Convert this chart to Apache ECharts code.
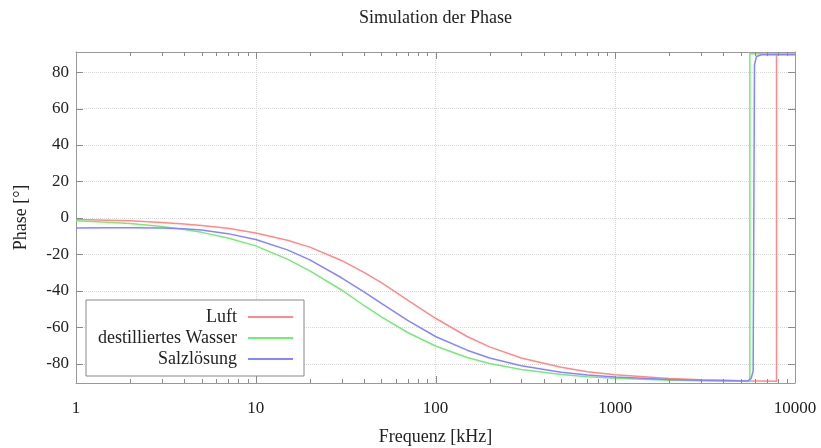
<!DOCTYPE html>
<html><head><meta charset="utf-8">
<script src="https://cdn.jsdelivr.net/npm/echarts@6/dist/echarts.min.js"></script>
<style>html,body{margin:0;padding:0;background:#fff}#c{width:821px;height:448px}</style>
</head><body><div id="c"></div>
<script>
const titleText = 'Simulation der Phase';
const xAxisName = 'Frequenz [kHz]';
const yAxisName = 'Phase [°]';
const seriesNames = ['Luft', 'destilliertes Wasser', 'Salzlösung'];
const seriesColors = ['#ff8a8a', '#78ea78', '#8585ff'];
const xTickLabels = ['1', '10', '100', '1000', '10000'];
const xMajorTicks = [10, 100, 1000];
const yTickValues = [-80, -60, -40, -20, 0, 20, 40, 60, 80];
const minorTickFreqs = [2,3,4,5,6,7,8,9, 20,30,40,50,60,70,80,90, 200,300,400,500,600,700,800,900, 2000,3000,4000,5000,6000,7000,8000,9000];

const freqLuft  = [1, 1.5, 2, 3, 4, 5, 7, 10, 15, 20, 30, 40, 50, 70, 100, 150, 200, 300, 500, 700, 1000, 2000, 3000, 5000, 7890, 7890, 10000];
const phaseLuft = [-0.8, -1.2, -1.6, -2.5, -3.3, -4.1, -5.7, -8.2, -12.2, -16, -23.3, -29.8, -35.5, -45, -55, -65, -70.7, -76.8, -81.9, -84.3, -86, -88, -88.7, -89.2, -89.5, 90, 90];

const freqWasser  = [1, 1.5, 2, 3, 4, 5, 7, 10, 15, 20, 30, 40, 50, 70, 100, 150, 200, 300, 500, 700, 1000, 2000, 3000, 5000, 5610, 5610, 10000];
const phaseWasser = [-1.6, -2.3, -3.1, -4.7, -6.3, -7.9, -11, -15.3, -22.6, -29, -39.5, -48, -54.2, -62.8, -70.2, -76.5, -79.8, -83.1, -85.9, -87.1, -87.9, -89, -89.3, -89.6, -89.7, 90, 90];

const freqSalz  = [1, 1.5, 2, 3, 4, 5, 7, 10, 15, 20, 30, 40, 50, 70, 100, 150, 200, 300, 500, 700, 1000, 2000, 3000, 5000, 5450, 5700, 5850, 5900, 5950, 6100, 6500, 10000];
const phaseSalz = [-5.5, -5.4, -5.4, -5.5, -5.9, -6.6, -8.6, -11.8, -17.5, -23, -32.8, -40.5, -46.8, -56.2, -65, -72.5, -76.8, -81, -84.6, -86.1, -87.2, -88.6, -89, -89.3, -89.4, -88, -84, 0, 84, 88.5, 89.5, 89.5];

const FONT = '"Liberation Serif", "Times New Roman", serif';
const TXT = '#222';
const FRAME = '#999';
const TICK = '#8a8a8a';

function zip(xs, ys) { return xs.map((x, i) => [x, ys[i]]); }

const chart = echarts.init(document.getElementById('c'), null, { renderer: 'canvas' });

function lineOpt(show) { return { show: show, onZero: false, lineStyle: { color: FRAME, width: 1 } }; }
function yAxisOpt(extra) {
  return Object.assign({
    type: 'value', min: -90.5, max: 91, splitNumber: 9,
    axisLine: lineOpt(true), axisTick: { show: false }
  }, extra);
}

// tick marks drawn through the axis scales (x ticks on bottom & top, y ticks on left & right)
function xTickSeries(values, len) {
  return {
    type: 'custom', silent: true, clip: false, z: 4, xAxisIndex: 0, yAxisIndex: 0,
    data: values.map(v => [v, 0]),
    renderItem: (params, api) => {
      const cs = params.coordSys;
      const px = Math.round(api.coord([api.value(0), 0])[0]) + 0.5;
      const b = cs.y + cs.height, t = cs.y;
      const st = { stroke: TICK, lineWidth: 1 };
      return { type: 'group', children: [
        { type: 'line', shape: { x1: px, y1: b, x2: px, y2: b - len }, style: st },
        { type: 'line', shape: { x1: px, y1: t, x2: px, y2: t + len }, style: st }
      ] };
    }
  };
}
function yTickSeries(values, len) {
  return {
    type: 'custom', silent: true, clip: false, z: 4, xAxisIndex: 0, yAxisIndex: 0,
    data: values.map(v => [1, v]),
    renderItem: (params, api) => {
      const cs = params.coordSys;
      const py = Math.round(api.coord([1, api.value(1)])[1]) + 0.5;
      const l = cs.x, r = cs.x + cs.width;
      const st = { stroke: TICK, lineWidth: 1 };
      return { type: 'group', children: [
        { type: 'line', shape: { x1: l, y1: py, x2: l + len, y2: py }, style: st },
        { type: 'line', shape: { x1: r, y1: py, x2: r - len, y2: py }, style: st }
      ] };
    }
  };
}

const lineSeries = [
  { name: seriesNames[0], data: zip(freqLuft, phaseLuft), color: seriesColors[0] },
  { name: seriesNames[1], data: zip(freqWasser, phaseWasser), color: seriesColors[1] },
  { name: seriesNames[2], data: zip(freqSalz, phaseSalz), color: seriesColors[2] }
].map(s => Object.assign({
  type: 'line', xAxisIndex: 0, yAxisIndex: 0, showSymbol: false, symbol: 'none',
  lineStyle: { width: 1.5 }, z: 3
}, s));

chart.setOption({
  animation: false,
  backgroundColor: '#fff',
  title: {
    text: titleText, left: 354, top: 4, padding: [5, 5, 5, 5],
    textStyle: { fontFamily: FONT, fontSize: 18, fontWeight: 'normal', color: TXT }
  },
  grid: {
    left: 76, right: 26, top: 52, bottom: 65, containLabel: false, outerBoundsMode: 'none',
    show: false
  },
  legend: {
    left: 86, top: 300, orient: 'vertical', align: 'right', z: 10,
    backgroundColor: '#fff', borderColor: '#888', borderWidth: 1,
    padding: [8, 11, 8, 12],
    itemWidth: 45, itemHeight: 2, itemGap: 3, icon: 'rect',
    selectedMode: false,
    textStyle: { fontFamily: FONT, fontSize: 18, color: TXT, lineHeight: 18, padding: [0, 6, 0, 0] },
    data: seriesNames
  },
  xAxis: [
    {
      type: 'log', logBase: 10, min: 1, max: 10000, position: 'bottom',
      name: xAxisName, nameLocation: 'middle', nameGap: 45,
      nameTextStyle: { fontFamily: FONT, fontSize: 18, color: TXT },
      axisLine: lineOpt(true),
      axisTick: { show: false },
      axisLabel: {
        fontFamily: FONT, fontSize: 17, color: TXT, margin: 17,
        formatter: v => { const i = Math.round(Math.log10(v)); return xTickLabels[i] || ''; }
      },
      splitLine: { show: true, lineStyle: { color: '#d8d8d8', type: 'dotted', width: 1 } }
    },
    {
      type: 'log', logBase: 10, min: 1, max: 10000, position: 'top',
      axisLine: lineOpt(true), axisLabel: { show: false }, splitLine: { show: false },
      axisTick: { show: false }
    }
  ],
  yAxis: [
    yAxisOpt({
      position: 'left',
      name: yAxisName, nameLocation: 'middle', nameGap: 46, nameRotate: 90,
      nameTextStyle: { fontFamily: FONT, fontSize: 18, color: TXT },
      axisLabel: {
        fontFamily: FONT, fontSize: 17, color: TXT, margin: 7,
        formatter: v => (yTickValues.indexOf(v) >= 0 ? String(v) : '')
      },
      splitLine: { show: true, lineStyle: { color: '#d8d8d8', type: 'dotted', width: 1 } }
    }),
    yAxisOpt({
      position: 'right',
      axisLabel: { show: false },
      splitLine: { show: false }
    })
  ],
  series: lineSeries.concat([
    xTickSeries(minorTickFreqs, 4),
    xTickSeries(xMajorTicks, 7),
    yTickSeries(yTickValues, 7)
  ])
});
</script>
</body></html>
